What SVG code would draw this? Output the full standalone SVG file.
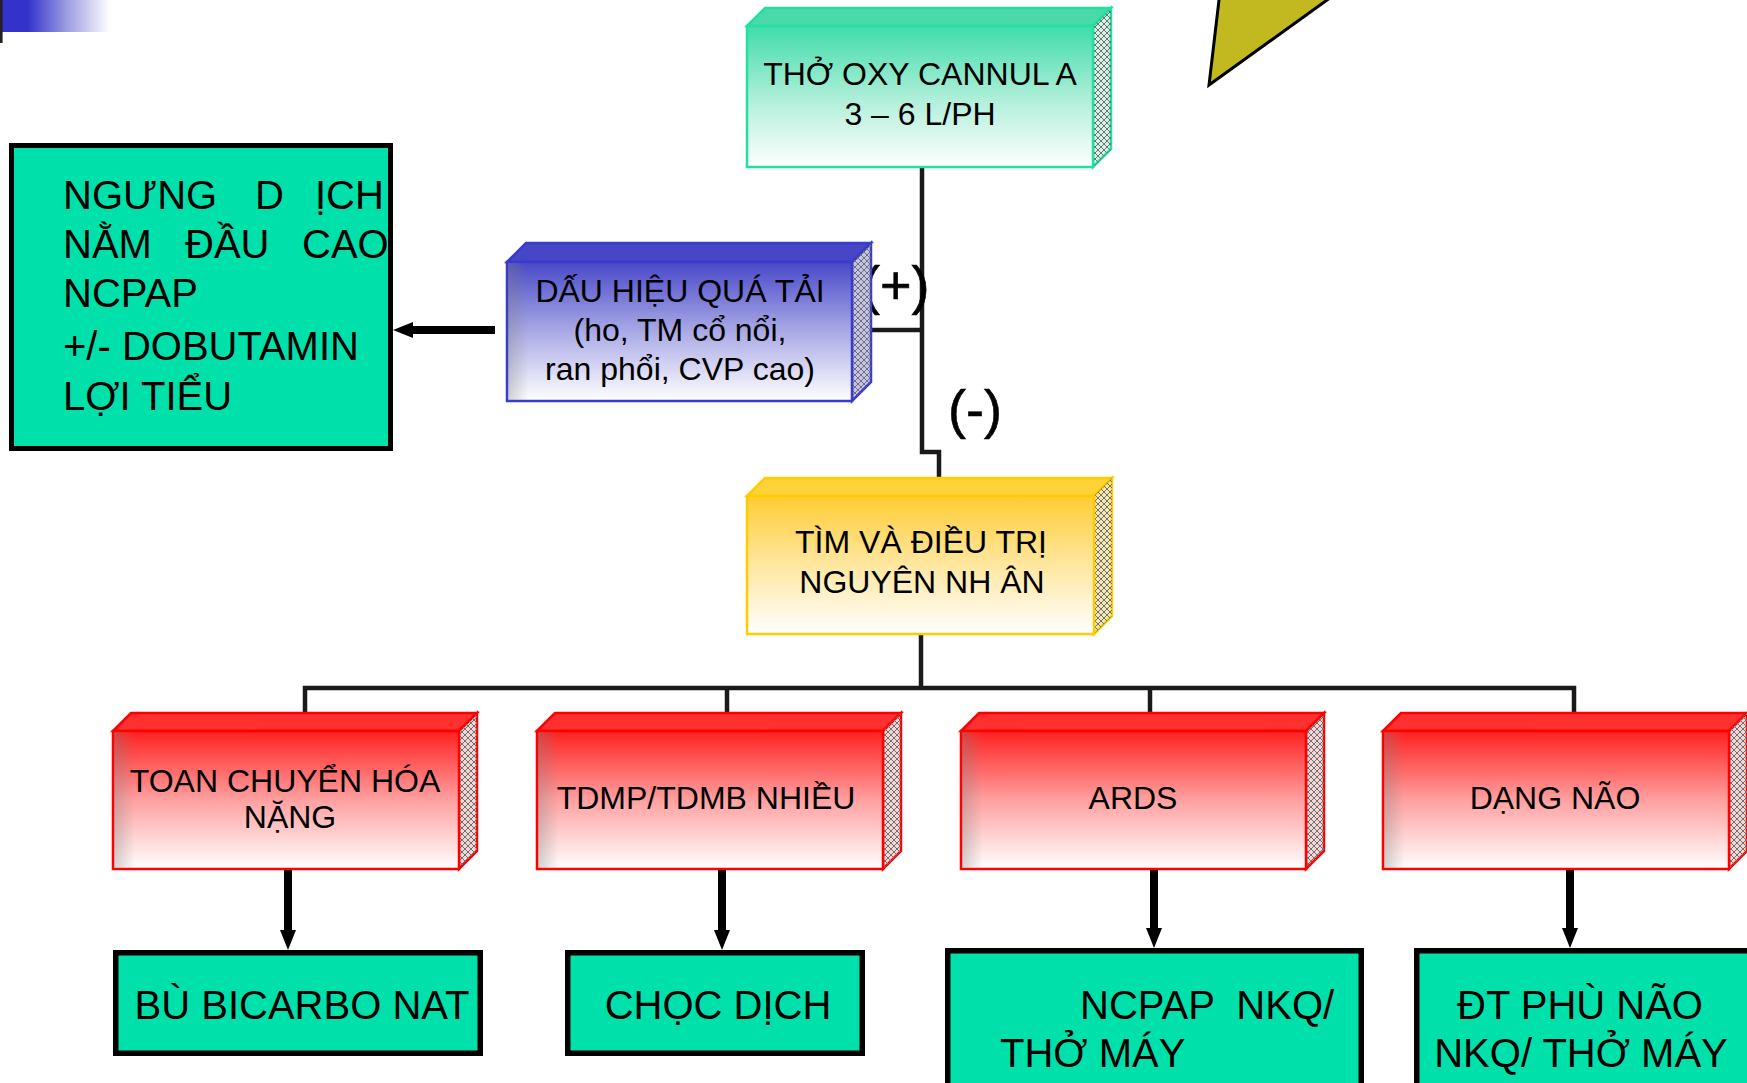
<svg xmlns="http://www.w3.org/2000/svg" width="1747" height="1083" viewBox="0 0 1747 1083">
  <defs>
    <style>
      .t { font-family: "Liberation Sans", Arial, sans-serif; fill: #000; }
      .t32 { font-size: 32px; text-anchor: middle; }
      .t40 { font-size: 40px; }
      .mid { text-anchor: middle; }
      .sign { font-family: "Liberation Sans", Arial, sans-serif; font-size: 54px; fill: #000; stroke: #000; stroke-width: 0.6; }
      .wire { fill: none; stroke: #1a1a1a; stroke-width: 4.5; stroke-linejoin: miter; }
      .thick { fill: none; stroke: #000; stroke-width: 8; }
      .act { fill: #00e0aa; stroke: #000; stroke-width: 5.5; }
      .hatch { fill: url(#hatch); }
      .gr-face { stroke: #22e0a2; stroke-width: 2.5; }
      .bl-face { stroke: #3a3acc; stroke-width: 2.5; }
      .ye-face { stroke: #ffcc00; stroke-width: 2.5; }
      .rd-face { stroke: #ff0000; stroke-width: 2.5; }
    </style>
    <linearGradient id="gGreen" x1="0" y1="0" x2="0" y2="1">
      <stop offset="0" stop-color="#3fdcaa"/>
      <stop offset="0.55" stop-color="#b5f0dc"/>
      <stop offset="1" stop-color="#ffffff"/>
    </linearGradient>
    <linearGradient id="gBlue" x1="0" y1="0" x2="0" y2="1">
      <stop offset="0" stop-color="#4848c8"/>
      <stop offset="0.5" stop-color="#a9a9e6"/>
      <stop offset="1" stop-color="#ffffff"/>
    </linearGradient>
    <linearGradient id="gYellow" x1="0" y1="0" x2="0" y2="1">
      <stop offset="0" stop-color="#ffcc33"/>
      <stop offset="0.5" stop-color="#ffe7a0"/>
      <stop offset="1" stop-color="#ffffff"/>
    </linearGradient>
    <linearGradient id="gRed" x1="0" y1="0" x2="0" y2="1">
      <stop offset="0" stop-color="#ff2020"/>
      <stop offset="0.5" stop-color="#ffa0a0"/>
      <stop offset="1" stop-color="#ffffff"/>
    </linearGradient>
    <linearGradient id="edge" x1="0" y1="0" x2="1" y2="0">
      <stop offset="0" stop-color="#808080" stop-opacity="0.35"/>
      <stop offset="0.06" stop-color="#808080" stop-opacity="0"/>
    </linearGradient>
    <linearGradient id="corner" x1="0" y1="0" x2="1" y2="0">
      <stop offset="0" stop-color="#3333cc"/>
      <stop offset="0.25" stop-color="#3333cc"/>
      <stop offset="0.6" stop-color="#9a9ae0"/>
      <stop offset="1" stop-color="#ffffff"/>
    </linearGradient>
    <pattern id="hatch" width="6" height="6" patternUnits="userSpaceOnUse">
      <path d="M0,0 L6,6 M6,0 L0,6" stroke="#707070" stroke-width="1" fill="none"/>
    </pattern>
    <marker id="head" viewBox="0 0 20 16" markerWidth="20" markerHeight="16" refX="0" refY="8" orient="auto" markerUnits="userSpaceOnUse">
      <path d="M0,0 L20,8 L0,16 z" fill="#000"/>
    </marker>
  </defs>

  <rect width="1747" height="1083" fill="#ffffff"/>

  <!-- slide decorations -->
  <g id="decor">
    <rect x="0" y="0" width="110" height="32" fill="url(#corner)"/>
    <line x1="1.3" y1="0" x2="1.3" y2="43" stroke="#222" stroke-width="2.6"/>
    <polygon points="1219.6,-5 1209,85 1334,-5" fill="#c2b920" stroke="#000" stroke-width="3" stroke-linejoin="miter"/>
  </g>

  <!-- connectors -->
  <g id="connectors">
    <path class="wire" d="M922,167 V452 H939 V479"/>
    <path class="wire" d="M871,330 H922"/>
    <path class="wire" d="M921,634 V688"/>
    <path class="wire" d="M305,714 V688 H1574 V714"/>
    <path class="wire" d="M727,688 V714"/>
    <path class="wire" d="M1150,688 V714"/>
    <text class="sign" x="862" y="304">(+)</text>
    <text class="sign" x="948" y="428">(-)</text>
    <line class="thick" x1="495" y1="330" x2="413" y2="330" stroke-width="7" marker-end="url(#head)"/>
    <line class="thick" x1="288" y1="869" x2="288" y2="930" marker-end="url(#head)"/>
    <line class="thick" x1="722" y1="869" x2="722" y2="930" marker-end="url(#head)"/>
    <line class="thick" x1="1154" y1="869" x2="1154" y2="928" marker-end="url(#head)"/>
    <line class="thick" x1="1570" y1="869" x2="1570" y2="928" marker-end="url(#head)"/>
  </g>

  <!-- oxygen box -->
  <g id="n-oxy">
    <polygon class="gr-face" points="747,26 765,8 1111,8 1093,26" fill="#4ad9a8"/>
    <polygon class="gr-face" points="1093,26 1111,8 1111,149 1093,167" fill="#d6f3e8"/>
    <polygon class="hatch" points="1093,26 1111,8 1111,149 1093,167"/>
    <rect class="gr-face" x="747" y="26" width="346" height="141" fill="url(#gGreen)"/>
    <text class="t t32" x="920" y="85">THỞ OXY CANNUL A</text>
    <text class="t t32" x="920" y="125">3 – 6 L/PH</text>
  </g>

  <!-- overload signs box -->
  <g id="n-overload">
    <polygon class="bl-face" points="507,262 526,243 871,243 852,262" fill="#4646c6"/>
    <polygon class="bl-face" points="852,262 871,243 871,382 852,401" fill="#c4c4ea"/>
    <polygon class="hatch" points="852,262 871,243 871,382 852,401"/>
    <rect class="bl-face" x="507" y="262" width="345" height="139" fill="url(#gBlue)"/>
    <rect x="508" y="263" width="343" height="137" fill="url(#edge)"/>
    <text class="t t32" x="680" y="302">DẤU HIỆU QUÁ TẢI</text>
    <text class="t t32" x="680" y="341">(ho, TM cổ nổi,</text>
    <text class="t t32" x="680" y="380">ran phổi, CVP cao)</text>
  </g>

  <!-- overload treatment box -->
  <g id="n-treat">
    <rect x="11.5" y="145.5" width="379" height="303" fill="#00e0aa" stroke="#000" stroke-width="5"/>
    <text class="t t40" x="63" y="209">NGƯNG</text>
    <text class="t t40" x="255" y="209">D</text>
    <text class="t t40" x="315" y="209">ỊCH</text>
    <text class="t t40" x="63" y="258">NẰM</text>
    <text class="t t40" x="185" y="258">ĐẦU</text>
    <text class="t t40" x="302" y="258">CAO</text>
    <text class="t t40" x="63" y="307">NCPAP</text>
    <text class="t t40" x="63" y="360">+/- DOBUTAMIN</text>
    <text class="t t40" x="63" y="410">LỢI TIỂU</text>
  </g>

  <!-- cause box -->
  <g id="n-cause">
    <polygon class="ye-face" points="747,496 765,478 1112,478 1094,496" fill="#ffd23a"/>
    <polygon class="ye-face" points="1094,496 1112,478 1112,616 1094,634" fill="#f5e8b0"/>
    <polygon class="hatch" points="1094,496 1112,478 1112,616 1094,634"/>
    <rect class="ye-face" x="747" y="496" width="347" height="138" fill="url(#gYellow)"/>
    <text class="t t32" x="921" y="553">TÌM VÀ ĐIỀU TRỊ</text>
    <text class="t t32" x="922" y="593">NGUYÊN NH ÂN</text>
  </g>

  <!-- causes -->
  <g id="n-acidosis">
    <polygon class="rd-face" points="113,731 131,713 477,713 459,731" fill="#ff3030"/>
    <polygon class="rd-face" points="459,731 477,713 477,851 459,869" fill="#f3d6d6"/>
    <polygon class="hatch" points="459,731 477,713 477,851 459,869"/>
    <rect class="rd-face" x="113" y="731" width="346" height="138" fill="url(#gRed)"/>
    <rect x="114" y="732" width="344" height="136" fill="url(#edge)"/>
    <text class="t t32" x="285" y="792">TOAN CHUYỂN HÓA</text>
    <text class="t t32" x="290" y="828">NẶNG</text>
  </g>
  <g id="n-effusion">
    <polygon class="rd-face" points="537,731 555,713 901,713 883,731" fill="#ff3030"/>
    <polygon class="rd-face" points="883,731 901,713 901,851 883,869" fill="#f3d6d6"/>
    <polygon class="hatch" points="883,731 901,713 901,851 883,869"/>
    <rect class="rd-face" x="537" y="731" width="346" height="138" fill="url(#gRed)"/>
    <rect x="538" y="732" width="344" height="136" fill="url(#edge)"/>
    <text class="t t32" x="706" y="809">TDMP/TDMB NHIỀU</text>
  </g>
  <g id="n-ards">
    <polygon class="rd-face" points="961,731 979,713 1324,713 1306,731" fill="#ff3030"/>
    <polygon class="rd-face" points="1306,731 1324,713 1324,851 1306,869" fill="#f3d6d6"/>
    <polygon class="hatch" points="1306,731 1324,713 1324,851 1306,869"/>
    <rect class="rd-face" x="961" y="731" width="345" height="138" fill="url(#gRed)"/>
    <rect x="962" y="732" width="343" height="136" fill="url(#edge)"/>
    <text class="t t32" x="1133" y="809">ARDS</text>
  </g>
  <g id="n-brain">
    <polygon class="rd-face" points="1383,731 1401,713 1747,713 1729,731" fill="#ff3030"/>
    <polygon class="rd-face" points="1729,731 1747,713 1747,851 1729,869" fill="#f3d6d6"/>
    <polygon class="hatch" points="1729,731 1747,713 1747,851 1729,869"/>
    <rect class="rd-face" x="1383" y="731" width="346" height="138" fill="url(#gRed)"/>
    <rect x="1384" y="732" width="344" height="136" fill="url(#edge)"/>
    <text class="t t32" x="1555" y="809">DẠNG NÃO</text>
  </g>

  <!-- treatments -->
  <g id="n-bicarb">
    <rect class="act" x="115.75" y="952.75" width="364.5" height="100.5"/>
    <text class="t t40 mid" x="302" y="1019">BÙ BICARBO NAT</text>
  </g>
  <g id="n-tap">
    <rect class="act" x="567.75" y="952.75" width="294.5" height="100.5"/>
    <text class="t t40 mid" x="718" y="1019">CHỌC DỊCH</text>
  </g>
  <g id="n-vent">
    <rect class="act" x="947.75" y="950.75" width="413.5" height="200"/>
    <text class="t t40" x="1080" y="1019" xml:space="preserve">NCPAP  NKQ/</text>
    <text class="t t40" x="1000" y="1067">THỞ MÁY</text>
  </g>
  <g id="n-edema">
    <rect class="act" x="1416.75" y="950.75" width="400" height="200"/>
    <text class="t t40 mid" x="1580" y="1019">ĐT PHÙ NÃO</text>
    <text class="t t40 mid" x="1581" y="1067">NKQ/ THỞ MÁY</text>
  </g>
</svg>
